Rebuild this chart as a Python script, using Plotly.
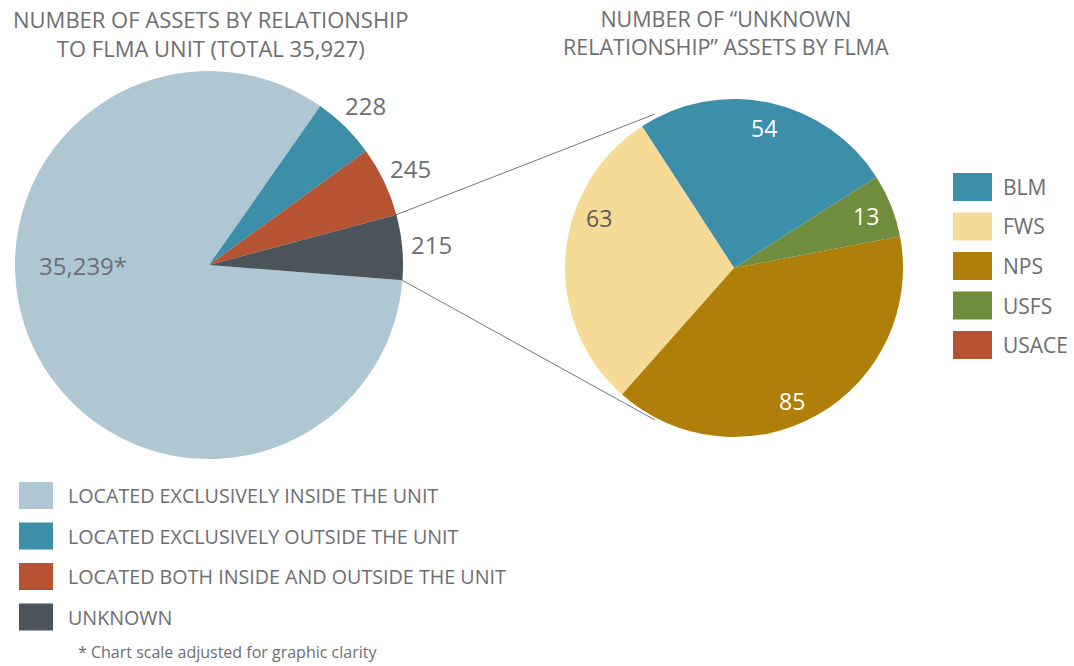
import math
import plotly.graph_objects as go

W, H = 1074, 666

# ---------------- data ----------------
rel_categories = [
    "LOCATED EXCLUSIVELY INSIDE THE UNIT",
    "LOCATED EXCLUSIVELY OUTSIDE THE UNIT",
    "LOCATED BOTH INSIDE AND OUTSIDE THE UNIT",
    "UNKNOWN",
]
rel_counts = [35239, 228, 245, 215]
# slice sizes as drawn (chart scale adjusted for graphic clarity)
rel_display_share = [300.5, 19.0, 21.0, 19.5]
rel_colors = ["#afc6d3", "#3d8ea9", "#b55332", "#4b535b"]

flma_categories = ["BLM", "FWS", "NPS", "USFS", "USACE"]
flma_counts = [54, 63, 85, 13, 0]
flma_colors = ["#3d8ea9", "#f6db97", "#b07f0a", "#6f8d3d", "#b55332"]

title_left = "NUMBER OF ASSETS BY RELATIONSHIP<br>TO FLMA UNIT (TOTAL 35,927)"
title_right = "NUMBER OF “UNKNOWN<br>RELATIONSHIP” ASSETS BY FLMA"
footnote = "* Chart scale adjusted for graphic clarity"

# ---------------- style ----------------
GRAY = "#6d6e71"
FONT = "Open Sans"
L_CX, L_CY, L_R, L_ROT = 209, 265, 194, 94.5      # left pie (px), clockwise
R_CX, R_CY, R_R, R_ROT = 734, 268, 169, -33       # right pie (px), counterclockwise
# label placement: (radius factor, angular nudge in degrees)
rel_label_pos = [(0.65, 25), (1.15, 0), (1.15, 0), (1.15, 0)]
flma_label_pos = [(0.85, 0), (0.85, 16), (0.86, 6), (0.84, 0), (0.85, 0)]
flma_label_colors = ["white", "#5a5a5a", "white", "white", "white"]
rel_label_colors = [GRAY, GRAY, GRAY, GRAY]


def px(x):
    return x / W


def py(y):
    return 1 - y / H


rel_text = [f"{v:,}" + ("*" if i == 0 else "") for i, v in enumerate(rel_counts)]
flma_text = [str(v) if v > 0 else "" for v in flma_counts]

fig = go.Figure()

fig.add_trace(go.Pie(
    labels=rel_categories,
    values=rel_display_share,
    text=rel_text,
    textinfo="none",
    marker=dict(colors=rel_colors, line=dict(width=0)),
    sort=False,
    direction="clockwise",
    rotation=L_ROT,
    domain=dict(x=[px(L_CX - L_R), px(L_CX + L_R)], y=[py(L_CY + L_R), py(L_CY - L_R)]),
    showlegend=False,
    hoverinfo="label+text",
))

fig.add_trace(go.Pie(
    labels=flma_categories,
    values=flma_counts,
    text=flma_text,
    textinfo="none",
    marker=dict(colors=flma_colors, line=dict(width=0)),
    sort=False,
    direction="counterclockwise",
    rotation=R_ROT,
    domain=dict(x=[px(R_CX - R_R), px(R_CX + R_R)], y=[py(R_CY + R_R), py(R_CY - R_R)]),
    showlegend=False,
    hoverinfo="label+value",
))

shapes = []
annotations = []

# slice labels, placed at each slice's mid-angle (angles clockwise from 12 o'clock)
def add_labels(values, texts, cx, cy, r, rot, clockwise, pos, colors, size):
    total = float(sum(values))
    cum = 0.0
    for i, (v, t) in enumerate(zip(values, texts)):
        span = v / total * 360.0
        if clockwise:
            mid = rot + cum + span / 2
        else:
            first = values[0] / total * 360.0
            mid = rot + first - (cum + span / 2)
        cum += span
        if not t:
            continue
        f, nudge = pos[i]
        a = math.radians(mid + nudge)
        x = cx + f * r * math.sin(a)
        y = cy - f * r * math.cos(a)
        annotations.append(dict(text=t, xref="paper", yref="paper", x=px(x), y=py(y),
                                xanchor="center", yanchor="middle", showarrow=False,
                                font=dict(family=FONT, size=size, color=colors[i])))


add_labels(rel_display_share, rel_text, L_CX, L_CY, L_R, L_ROT, True,
           rel_label_pos, rel_label_colors, 24)
add_labels(flma_counts, flma_text, R_CX, R_CY, R_R, R_ROT, False,
           flma_label_pos, flma_label_colors, 23)

# connector lines
for (x0, y0, x1, y1) in [(393, 216, 655, 114), (400, 279, 655, 420)]:
    shapes.append(dict(type="line", xref="paper", yref="paper",
                       x0=px(x0), y0=py(y0), x1=px(x1), y1=py(y1),
                       line=dict(color="#777777", width=1), layer="below"))

# left legend
for i, (lab, col) in enumerate(zip(rel_categories, rel_colors)):
    top = 482 + i * 40.5
    shapes.append(dict(type="rect", xref="paper", yref="paper",
                       x0=px(19), x1=px(53), y0=py(top + 27), y1=py(top),
                       fillcolor=col, line=dict(width=0)))
    annotations.append(dict(text=lab, xref="paper", yref="paper",
                            x=px(66), y=py(top + 13.5), xanchor="left", yanchor="middle",
                            showarrow=False, font=dict(family=FONT, size=19.7, color=GRAY)))

# right legend
for i, (lab, col) in enumerate(zip(flma_categories, flma_colors)):
    top = 173 + i * 39.5
    shapes.append(dict(type="rect", xref="paper", yref="paper",
                       x0=px(953), x1=px(992), y0=py(top + 28), y1=py(top),
                       fillcolor=col, line=dict(width=0)))
    annotations.append(dict(text=lab, xref="paper", yref="paper",
                            x=px(1001), y=py(top + 14), xanchor="left", yanchor="middle",
                            showarrow=False, font=dict(family=FONT, size=21, color=GRAY)))

# titles and footnote
annotations.append(dict(text=title_left, xref="paper", yref="paper", x=px(210), y=py(2),
                        xanchor="center", yanchor="top", showarrow=False,
                        font=dict(family=FONT, size=22, color=GRAY)))
annotations.append(dict(text=title_right, xref="paper", yref="paper", x=px(726), y=py(2),
                        xanchor="center", yanchor="top", showarrow=False,
                        font=dict(family=FONT, size=21.5, color=GRAY)))
annotations.append(dict(text=footnote, xref="paper", yref="paper", x=px(76), y=py(652),
                        xanchor="left", yanchor="middle", showarrow=False,
                        font=dict(family=FONT, size=16, color=GRAY)))

fig.update_layout(
    width=W, height=H,
    margin=dict(l=0, r=0, t=0, b=0),
    paper_bgcolor="white", plot_bgcolor="white",
    shapes=shapes, annotations=annotations,
    font=dict(family=FONT, color=GRAY),
)

fig.write_html("out.html", config={"displayModeBar": False},
               post_script="document.body.style.margin='0';")
